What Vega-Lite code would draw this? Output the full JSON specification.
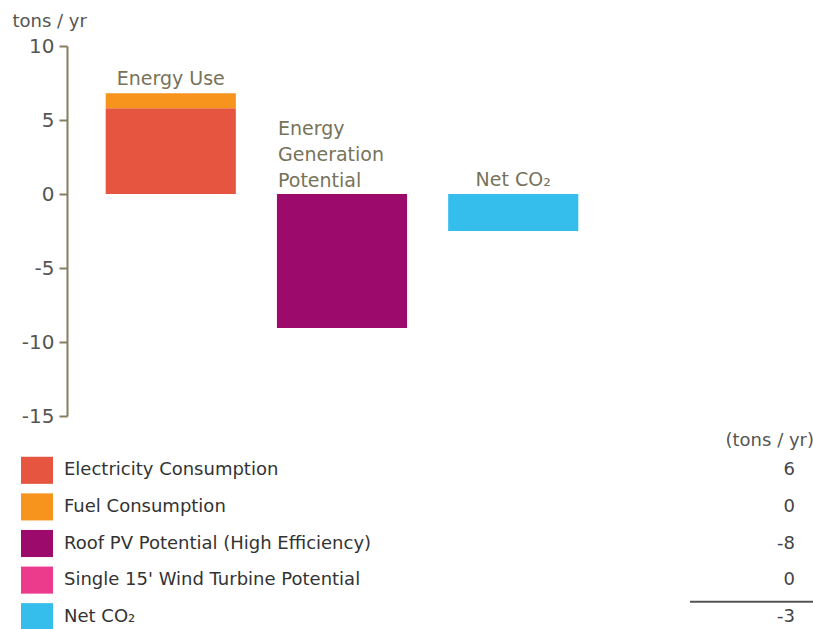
{
  "$schema": "https://vega.github.io/schema/vega-lite/v6.json",
  "padding": {"left": 12, "top": 12, "right": 0, "bottom": 0},
  "background": "white",
  "config": {"view": {"stroke": null}, "font": "DejaVu Sans"},
  "spacing": 6,
  "vconcat": [
    {
      "width": 550,
      "height": 370,
      "layer": [
        {
          "data": {"values": [
            {"group": "Energy Use", "series": "Electricity Consumption", "value": 5.8, "order": 1},
            {"group": "Energy Use", "series": "Fuel Consumption", "value": 1.0, "order": 2},
            {"group": "Energy Generation Potential", "series": "Roof PV Potential (High Efficiency)", "value": -9.05, "order": 1},
            {"group": "Energy Generation Potential", "series": "Single 15' Wind Turbine Potential", "value": 0, "order": 2},
            {"group": "Net CO2", "series": "Net CO₂", "value": -2.5, "order": 1}
          ]},
          "mark": {"type": "bar"},
          "encoding": {
            "x": {"field": "group", "type": "nominal", "sort": ["Energy Use", "Energy Generation Potential", "Net CO2"],
                  "scale": {"paddingInner": 0.24, "paddingOuter": 0.226}, "axis": null},
            "y": {"field": "value", "type": "quantitative", "stack": "zero",
                  "scale": {"domain": [-15, 10], "nice": false, "zero": false},
                  "axis": {"values": [-15, -10, -5, 0, 5, 10], "grid": false, "tickSize": 8, "tickWidth": 2,
                           "labelExpr": "replace(datum.label, '−', '-')",
                           "domainColor": "#877d60", "tickColor": "#877d60", "domainWidth": 2,
                           "labelFontSize": 20, "labelColor": "#555555", "labelPadding": 5,
                           "title": "tons / yr", "titleAngle": 0, "titleAlign": "left", "titleBaseline": "middle",
                           "titleX": -55, "titleY": -25, "titleFontSize": 18, "titleFontWeight": "normal", "titleColor": "#555555"}},
            "color": {"field": "series", "type": "nominal", "legend": null,
                      "scale": {"domain": ["Electricity Consumption", "Fuel Consumption", "Roof PV Potential (High Efficiency)", "Single 15' Wind Turbine Potential", "Net CO₂"],
                                "range": ["#e5553f", "#f7941e", "#9c0a6b", "#ec3a8c", "#35bdec"]}},
            "order": {"field": "order", "type": "quantitative"}
          }
        },
        {
          "mark": {"type": "rule", "color": "#5a5a5a", "strokeWidth": 2},
          "encoding": {"y": {"datum": 0}}
        },
        {
          "data": {"values": [
            {"group": "Energy Use", "text": "Energy Use", "at": 6.8},
            {"group": "Net CO2", "text": "Net CO₂", "at": 0}
          ]},
          "mark": {"type": "text", "baseline": "middle", "align": "center", "dy": -14, "fontSize": 19, "color": "#76735a"},
          "encoding": {
            "x": {"field": "group", "type": "nominal", "sort": ["Energy Use", "Energy Generation Potential", "Net CO2"]},
            "y": {"field": "at", "type": "quantitative"},
            "text": {"field": "text"}
          }
        },
        {
          "data": {"values": [
            {"group": "Energy Generation Potential", "text": ["Energy", "Generation", "Potential"], "at": 0}
          ]},
          "mark": {"type": "text", "baseline": "middle", "align": "left", "dy": -65, "xOffset": -64, "lineHeight": 26, "fontSize": 19, "color": "#76735a"},
          "encoding": {
            "x": {"field": "group", "type": "nominal", "sort": ["Energy Use", "Energy Generation Potential", "Net CO2"]},
            "y": {"field": "at", "type": "quantitative"},
            "text": {"field": "text"}
          }
        }
      ]
    },
    {
      "width": 730,
      "height": 183,
      "title": {"text": "(tons / yr)", "anchor": "end", "fontSize": 18, "fontWeight": "normal", "color": "#555555", "offset": 2},
      "data": {"values": [
        {"row": 1, "label": "Electricity Consumption", "shown": "6"},
        {"row": 2, "label": "Fuel Consumption", "shown": "0"},
        {"row": 3, "label": "Roof PV Potential (High Efficiency)", "shown": "-8"},
        {"row": 4, "label": "Single 15' Wind Turbine Potential", "shown": "0"},
        {"row": 5, "label": "Net CO₂", "shown": "-3"}
      ]},
      "encoding": {
        "y": {"field": "row", "type": "ordinal", "axis": null, "scale": {"paddingInner": 0.26, "paddingOuter": 0.13}}
      },
      "layer": [
        {
          "mark": {"type": "rect", "x": -46, "x2": -14},
          "encoding": {
            "color": {"field": "label", "type": "nominal", "legend": null,
                      "scale": {"domain": ["Electricity Consumption", "Fuel Consumption", "Roof PV Potential (High Efficiency)", "Single 15' Wind Turbine Potential", "Net CO₂"],
                                "range": ["#e5553f", "#f7941e", "#9c0a6b", "#ec3a8c", "#35bdec"]}}
          }
        },
        {
          "mark": {"type": "text", "x": -3, "align": "left", "baseline": "middle", "fontSize": 18, "color": "#333333"},
          "encoding": {"text": {"field": "label"}}
        },
        {
          "mark": {"type": "text", "x": 728, "align": "right", "baseline": "middle", "fontSize": 18, "color": "#444444"},
          "encoding": {"text": {"field": "shown"}}
        },
        {
          "transform": [{"filter": "datum.row == 5"}],
          "mark": {"type": "rule", "x": 623, "x2": 746, "yOffset": -15, "color": "#555555", "strokeWidth": 2},
          "encoding": {}
        }
      ]
    }
  ]
}
